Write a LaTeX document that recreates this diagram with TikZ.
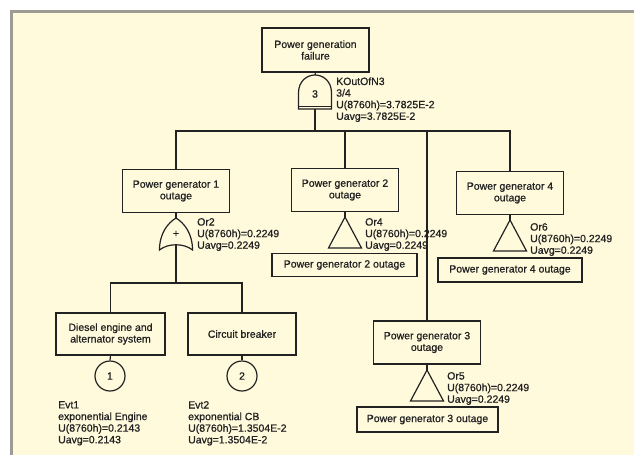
\documentclass[tikz,border=0pt]{standalone}
\usepackage{fontspec}
\setmainfont{Liberation Sans}[RawFeature={embolden=0.8}]
\definecolor{paper}{HTML}{FFFADC}
\definecolor{rim}{HTML}{9C9C94}
\definecolor{ink}{HTML}{222222}
\begin{document}
\begin{tikzpicture}[x=1pt,y=-1pt,
  every node/.style={text=ink,font=\fontsize{10.5}{11.6}\selectfont},
  wire/.style={draw=ink,line width=1.2pt},
  eventbox/.style={draw=ink,line width=1.2pt,align=center,inner sep=0pt,
    minimum width=107pt,minimum height=43pt},
  transferbox/.style={draw=ink,line width=1.2pt,inner sep=0pt,minimum height=23pt},
  basic/.style={draw=ink,line width=1.2pt,circle,inner sep=0pt,minimum size=30pt},
  info/.style={anchor=north west,align=left,inner sep=0pt},
  % k-out-of-n gate: rounded dome with a double base line
  kgate/.pic={
    \draw[ink,line width=1.2pt] (-16.5,34) -- (-16.5,18) .. controls (-16.5,6) and (-8,0) .. (0,0)
      .. controls (8,0) and (16.5,6) .. (16.5,18) -- (16.5,34) -- cycle;
    \draw[ink,line width=1pt] (-16.5,31) -- (16.5,31);
    \node at (0,19) {#1};
    \coordinate (-in) at (0,0);
    \coordinate (-out) at (0,34);
  },
  % OR gate with a plus sign
  orgate/.pic={
    \draw[ink,line width=1.2pt] (-16.5,32) .. controls (-16.5,15) and (-8,5) .. (0,0)
      .. controls (8,5) and (16.5,15) .. (16.5,32)
      .. controls (8,25) and (-8,25) .. cycle;
    \node at (0,16) {+};
    \coordinate (-in) at (0,0);
    \coordinate (-out) at (0,26.75);
  },
  % transfer triangle
  transfer/.pic={
    \draw[ink,line width=1.2pt] (0,0) -- (16.5,31) -- (-16.5,31) -- cycle;
    \coordinate (-in) at (0,0);
  }]
\useasboundingbox (0,0) rectangle (634,455);
% panel
\fill[white] (0,0) rectangle (634,455);
\fill[paper] (10,10) rectangle (634,455);
\draw[rim,line width=3pt] (11.5,455) -- (11.5,11.5) -- (634,11.5);

% top event and k-out-of-n gate
\node[eventbox,minimum width=107pt,minimum height=44pt] (top) at (315.5,50) {Power generation\\failure};
\pic (kg) at (315,75) {kgate=3};
\node[info] (kglab) at (336,77.2) {KOutOfN3\\3/4\\U(8760h)=3.7825E-2\\Uavg=3.7825E-2};

% generators
\node[eventbox] (g1) at (176,191) {Power generator 1\\outage};
\node[eventbox] (g2) at (345,190) {Power generator 2\\outage};
\node[eventbox] (g3) at (427,342.5) {Power generator 3\\outage};
\node[eventbox] (g4) at (510,193) {Power generator 4\\outage};

% gates below generators
\pic (or2) at (176,218) {orgate};
\node[info] (or2lab) at (197,218) {Or2\\U(8760h)=0.2249\\Uavg=0.2249};
\pic (or4) at (345,217) {transfer};
\node[info] (or4lab) at (365,218) {Or4\\U(8760h)=0.2249\\Uavg=0.2249};
\pic (or6) at (510,220) {transfer};
\node[info] (or6lab) at (530,223) {Or6\\U(8760h)=0.2249\\Uavg=0.2249};
\pic (or5) at (427,370) {transfer};
\node[info] (or5lab) at (447,372) {Or5\\U(8760h)=0.2249\\Uavg=0.2249};

% transfer targets
\node[transferbox,minimum width=145pt] (t2) at (344.5,265) {Power generator 2 outage};
\node[transferbox,minimum width=144pt,minimum height=24pt] (t4) at (510,270) {Power generator 4 outage};
\node[transferbox,minimum width=141pt,minimum height=25pt] (t3) at (427.5,419.5) {Power generator 3 outage};

% basic events
\node[eventbox,minimum width=109pt,minimum height=42pt] (eng) at (110.5,334) {Diesel engine and\\alternator system};
\node[eventbox,minimum width=108pt,minimum height=42pt] (cb) at (242,334) {Circuit breaker};
\node[basic] (e1) at (110,376) {1};
\node[basic] (e2) at (242,376) {2};
\node[info] (e1lab) at (58,401) {Evt1\\exponential Engine\\U(8760h)=0.2143\\Uavg=0.2143};
\node[info] (e2lab) at (188,401) {Evt2\\exponential CB\\U(8760h)=1.3504E-2\\Uavg=1.3504E-2};

% connectors
\coordinate (bus) at (315,131);
\coordinate (bus2) at (176,283);
\draw[wire] (top.south) -- (kg-in);
\draw[wire] (kg-out) -- (bus);
\draw[wire] (g1.north) |- (bus) -| (g4.north);
\draw[wire] (g2.north) -- (g2.north |- bus);
\draw[wire] (g3.north) -- (g3.north |- bus);
\draw[wire] (g1.south) -- (or2-in);
\draw[wire] (g2.south) -- (or4-in);
\draw[wire] (g4.south) -- (or6-in);
\draw[wire] (g3.south) -- (or5-in);
\draw[wire] (or2-out) -- (bus2);
\draw[wire] (eng.north) |- (bus2) -| (cb.north);
\draw[wire] (eng.south) -- (e1.north);
\draw[wire] (cb.south) -- (e2.north);
\end{tikzpicture}
\end{document}
